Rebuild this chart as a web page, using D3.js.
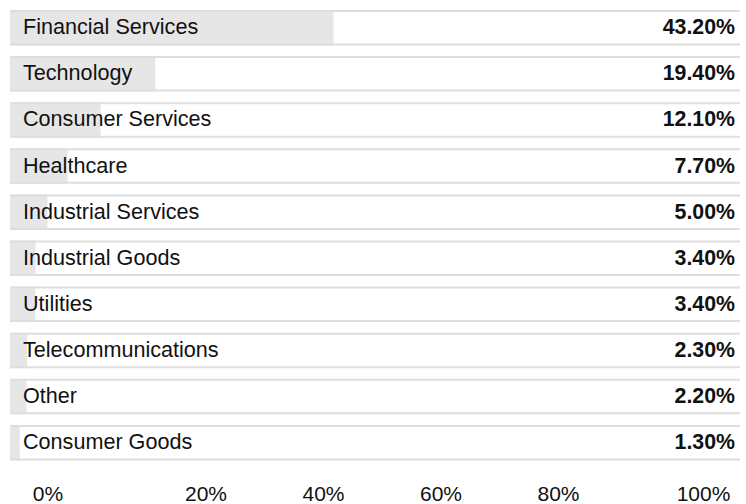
<!DOCTYPE html>
<html>
<head>
<meta charset="utf-8">
<script src="https://cdn.jsdelivr.net/npm/d3@7"></script>
<style>
  html, body { margin: 0; padding: 0; background: #fff; }
  svg { display: block; font-family: "Liberation Sans", Arial, Helvetica, sans-serif; }
</style>
</head>
<body>
<div class="chart"></div>
<script>
const sectors = ['Financial Services', 'Technology', 'Consumer Services', 'Healthcare',
  'Industrial Services', 'Industrial Goods', 'Utilities', 'Telecommunications', 'Other', 'Consumer Goods'];
const weights = [43.2, 19.4, 12.1, 7.7, 5.0, 3.4, 3.4, 2.3, 2.2, 1.3];
const tickValues = [0, 20, 40, 60, 80, 100];

const width = 746, height = 504;
const fill = '#e6e6e6', rule = '#dedede', ink = '#111';

const svg = d3.select('.chart')
  .append('svg')
  .attr('width', width)
  .attr('height', height);

// bar length scale (bars start at the row's left edge)
const x = d3.scaleLinear().domain([0, 100]).range([10, 759]);
const y = d3.scaleBand().domain(sectors).range([10, 460.4]).paddingInner(0.23).paddingOuter(0);

// tick labels are spread unevenly along the bottom
const xTick = d3.scaleLinear().domain([0, 20, 80, 100]).range([48, 206, 558.5, 703.5]);

const rows = svg.selectAll('g.row')
  .data(sectors.map((s, i) => ({ name: s, value: weights[i] })))
  .join('g')
  .attr('class', 'row')
  .attr('transform', d => `translate(0, ${y(d.name)})`);

rows.append('rect')
  .attr('x', x(0))
  .attr('y', 0)
  .attr('width', d => x(d.value) - x(0))
  .attr('height', y.bandwidth())
  .attr('fill', fill);

rows.append('line')
  .attr('x1', 10).attr('x2', 740)
  .attr('y1', 1).attr('y2', 1);
rows.append('line')
  .attr('x1', 10).attr('x2', 740)
  .attr('y1', y.bandwidth() - 1).attr('y2', y.bandwidth() - 1);

rows.selectAll('line')
  .attr('stroke', rule)
  .attr('stroke-width', 2);

rows.append('text')
  .attr('x', 23)
  .attr('y', 24.3)
  .attr('fill', ink)
  .attr('font-size', '21.6px')
  .text(d => d.name);

rows.append('text')
  .attr('x', 735)
  .attr('y', 24.3)
  .attr('text-anchor', 'end')
  .attr('font-weight', 'bold')
  .attr('fill', ink)
  .attr('font-size', '21.3px')
  .text(d => d.value.toFixed(2) + '%');

svg.append('g')
  .selectAll('text')
  .data(tickValues)
  .join('text')
  .attr('x', d => xTick(d))
  .attr('y', 501)
  .attr('text-anchor', 'middle')
  .attr('fill', ink)
  .attr('font-size', '21px')
  .text(d => d + '%');
</script>
</body>
</html>
